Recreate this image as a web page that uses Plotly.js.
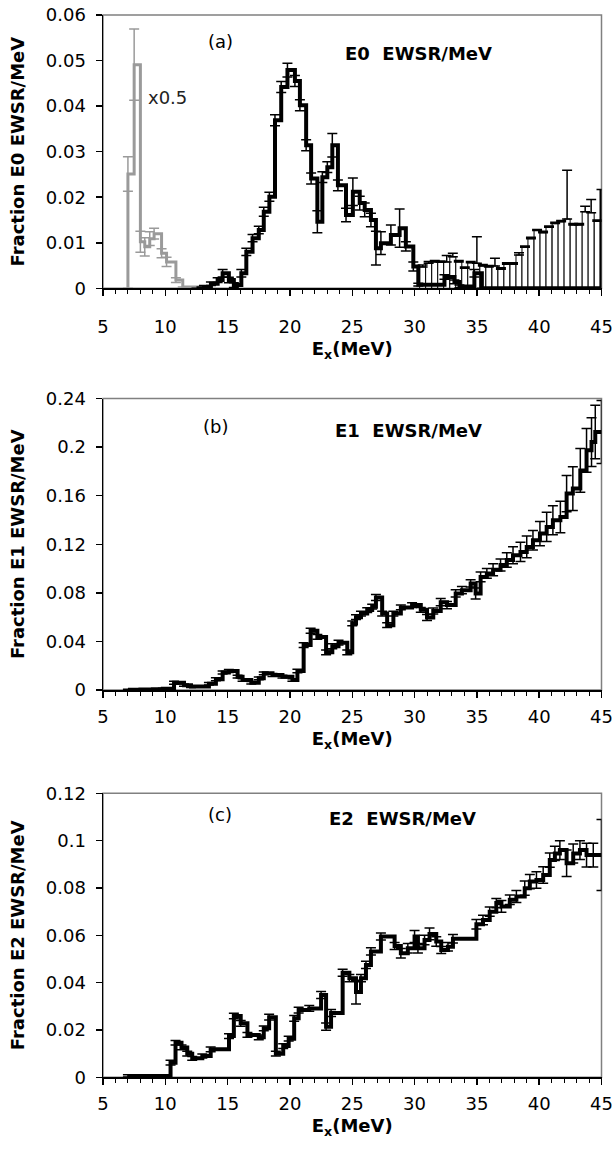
<!DOCTYPE html>
<html>
<head>
<meta charset="utf-8">
<script src="https://cdn.plot.ly/plotly-3.0.1.min.js"></script>
<style>html,body{margin:0;padding:0;background:#fff;}#chart{width:615px;height:1151px;}</style>
</head>
<body>
<div id="chart"></div>
<script>
// ---------- Panel (a): E0 ----------
const e0ScaledX = [7.0, 7.0, 7.5, 8.0, 8.35, 8.75, 9.1, 9.7, 10.1, 10.85, 11.4, 13.0];
const e0ScaledY = [0, 0.0251, 0.0491, 0.0102, 0.0091, 0.0109, 0.012, 0.0077, 0.0058, 0.0018, 0.0003, 0.0003];
const e0ScaledErr = [0, 0.0038, 0.0078, 0.0023, 0.002, 0.0015, 0.0012, 0.001, 0.001, 0.0005, 0, 0];

const e0X = [12.5, 13.1, 13.66, 14.2, 14.6, 15.1, 15.5, 16.1, 16.5, 17.0, 17.5, 17.9, 18.35, 18.8, 19.3, 19.8, 20.4, 20.8, 21.3, 21.7, 22.2, 22.6, 23.0, 23.4, 23.85, 24.5, 25.05, 25.6, 26.0, 26.5, 26.9, 27.3, 28.1, 28.8, 29.3, 29.9, 30.3, 32.4, 33.2, 33.6, 34.8, 35.4, 45.0];
const e0Y = [0, 0.0003, 0.001, 0.0018, 0.0033, 0.0018, 0.0007, 0.0033, 0.008, 0.011, 0.0128, 0.0168, 0.0201, 0.0369, 0.0442, 0.0479, 0.0455, 0.0402, 0.0314, 0.0241, 0.0146, 0.0244, 0.0266, 0.0314, 0.0226, 0.0161, 0.0212, 0.0187, 0.0172, 0.015, 0.0088, 0.0099, 0.0117, 0.0132, 0.0092, 0.0048, 0.0008, 0.0025, 0.0014, 0.0004, 0.0033, 0, 0.0217];
const e0Err = [0, 0.0003, 0.0004, 0.0005, 0.0008, 0.0006, 0.0005, 0.0008, 0.0008, 0.0008, 0.0008, 0.001, 0.001, 0.0012, 0.0012, 0.0015, 0.0012, 0.0012, 0.0012, 0.0012, 0.0024, 0.0012, 0.0012, 0.0026, 0.0012, 0.0015, 0.003, 0.0015, 0.0015, 0.0015, 0.0037, 0.0025, 0.0022, 0.0042, 0.001, 0.001, 0.0003, 0.0005, 0.0004, 0.0003, 0.0008, 0, 0];

const e0LimitX = [30.65, 31.13, 31.62, 32.1, 32.58, 33.07, 33.55, 34.03, 34.51, 35.0, 35.48, 35.96, 36.45, 36.93, 37.41, 37.9, 38.38, 38.86, 39.34, 39.83, 40.31, 40.79, 41.28, 41.76, 42.24, 42.73, 43.21, 43.69, 44.17, 44.66];
const e0LimitY = [0.0047, 0.0055, 0.0058, 0.0057, 0.0058, 0.0069, 0.0058, 0.0044, 0.0056, 0.0055, 0.0049, 0.0047, 0.0049, 0.0042, 0.0053, 0.0053, 0.0073, 0.009, 0.0109, 0.0127, 0.0122, 0.0134, 0.0142, 0.0146, 0.0152, 0.0139, 0.0139, 0.0168, 0.0166, 0.0147];
const e0LimitErr = [0.0004, 0.0004, 0.0003, 0.0003, 0.0014, 0.0008, 0.0003, 0.0003, 0.0003, 0.0058, 0.0003, 0.0003, 0.0017, 0.0003, 0.0003, 0.0003, 0.0005, 0.0003, 0.0003, 0.0002, 0.0003, 0.0003, 0.0003, 0.0003, 0.0107, 0.0003, 0.0003, 0.0012, 0.0029, 0.0003];
const e0LimitZero = e0LimitX.map(() => 0);

// ---------- Panel (b): E1 ----------
const e1X = [7.0, 8.0, 9.0, 9.8, 10.7, 11.5, 12.06, 13.5, 14.06, 14.6, 15.1, 15.8, 16.2, 16.9, 17.5, 17.9, 18.6, 19.4, 20.2, 20.6, 21.1, 21.66, 22.2, 22.9, 23.4, 23.9, 24.6, 25.0, 25.3, 25.7, 26.2, 26.6, 26.9, 27.4, 27.8, 28.3, 28.9, 29.8, 30.5, 31.0, 31.5, 32.1, 32.6, 33.3, 33.8, 34.5, 34.9, 35.3, 35.8, 36.3, 36.9, 37.4, 37.9, 38.5, 39.0, 39.5, 40.06, 40.6, 41.1, 41.7, 42.2, 42.7, 43.3, 43.8, 44.2, 44.5, 45.0];
const e1Y = [0.0003, 0.0005, 0.0007, 0.001, 0.006, 0.004, 0.0028, 0.0052, 0.0088, 0.0144, 0.0156, 0.011, 0.0082, 0.006, 0.0096, 0.0137, 0.0123, 0.011, 0.0082, 0.0156, 0.037, 0.0488, 0.0437, 0.031, 0.036, 0.039, 0.031, 0.0548, 0.060, 0.0629, 0.0658, 0.0686, 0.0762, 0.0629, 0.0534, 0.0629, 0.068, 0.0699, 0.066, 0.0597, 0.065, 0.0723, 0.0699, 0.0795, 0.0822, 0.0877, 0.0795, 0.0931, 0.096, 0.099, 0.1029, 0.107, 0.111, 0.1137, 0.1178, 0.1233, 0.1288, 0.1343, 0.1398, 0.1425, 0.1617, 0.1658, 0.1808, 0.1973, 0.2041, 0.2124, 0.2124];
const e1Err = [0.0004, 0.0004, 0.0004, 0.0005, 0.0012, 0.001, 0.0008, 0.001, 0.0012, 0.0012, 0.0012, 0.0012, 0.001, 0.001, 0.0012, 0.0012, 0.0012, 0.0012, 0.001, 0.0015, 0.002, 0.002, 0.002, 0.002, 0.002, 0.002, 0.002, 0.002, 0.002, 0.002, 0.002, 0.002, 0.0025, 0.002, 0.002, 0.002, 0.002, 0.002, 0.002, 0.0025, 0.0025, 0.003, 0.003, 0.003, 0.003, 0.003, 0.0045, 0.004, 0.004, 0.005, 0.005, 0.006, 0.007, 0.008, 0.009, 0.008, 0.01, 0.012, 0.012, 0.013, 0.015, 0.018, 0.018, 0.018, 0.02, 0.022, 0.026];

// ---------- Panel (c): E2 ----------
const e2X = [7.0, 10.42, 10.82, 11.3, 11.76, 12.16, 12.97, 13.64, 15.11, 15.5, 16.05, 16.59, 17.5, 17.9, 18.33, 18.87, 19.46, 19.9, 20.34, 20.7, 21.55, 22.5, 22.9, 23.3, 24.23, 24.77, 25.3, 25.7, 26.1, 26.5, 27.3, 28.4, 28.9, 29.46, 30.0, 30.27, 30.8, 31.2, 31.74, 32.14, 32.68, 33.08, 34.96, 35.49, 36.03, 36.56, 36.97, 37.64, 38.17, 38.84, 39.25, 39.78, 40.32, 40.85, 41.26, 41.66, 42.2, 42.73, 43.27, 43.8, 44.34, 45.0];
const e2Y = [0.0006, 0.0062, 0.0146, 0.0126, 0.010, 0.008, 0.009, 0.0118, 0.0174, 0.0259, 0.0228, 0.0179, 0.0169, 0.0207, 0.0254, 0.010, 0.0132, 0.0163, 0.0249, 0.0284, 0.0291, 0.0348, 0.0214, 0.0272, 0.0442, 0.0419, 0.036, 0.0419, 0.0475, 0.0532, 0.0595, 0.0555, 0.0524, 0.0545, 0.0595, 0.0545, 0.058, 0.0606, 0.0574, 0.0538, 0.0552, 0.0585, 0.0647, 0.0665, 0.070, 0.0736, 0.0722, 0.075, 0.0764, 0.0799, 0.0827, 0.0834, 0.0855, 0.0918, 0.0946, 0.096, 0.0904, 0.0946, 0.096, 0.0939, 0.0939, 0.0939];
const e2Err = [0.0005, 0.001, 0.001, 0.001, 0.001, 0.0008, 0.0008, 0.001, 0.001, 0.0012, 0.0012, 0.001, 0.001, 0.001, 0.0012, 0.001, 0.001, 0.001, 0.0012, 0.0012, 0.0012, 0.0015, 0.0015, 0.0015, 0.0015, 0.0015, 0.005, 0.0015, 0.0015, 0.0015, 0.0015, 0.0015, 0.002, 0.002, 0.0025, 0.002, 0.002, 0.0025, 0.002, 0.0015, 0.0018, 0.0018, 0.002, 0.002, 0.002, 0.002, 0.0025, 0.002, 0.0025, 0.003, 0.003, 0.0035, 0.0035, 0.003, 0.003, 0.004, 0.0056, 0.004, 0.004, 0.005, 0.005, 0.015];

const panelLabels = ['(a)', '(b)', '(c)'];
const panelTitles = ['E0\u00a0 EWSR/MeV', 'E1\u00a0 EWSR/MeV', 'E2\u00a0 EWSR/MeV'];
const yTitles = ['Fraction E0 EWSR/MeV', 'Fraction E1 EWSR/MeV', 'Fraction E2 EWSR/MeV'];
const xTitle = 'E<sub>x</sub>(MeV)';
const scaleNote = 'x0.5';

// ---------- styling ----------
const FONT = 'DejaVu Sans, Arial, sans-serif';
const BLACK = '#000000';
const GREY = '#9a9a9a';

function stepTrace(x, y, err, xa, ya, color, width, errColor) {
  return {
    type: 'scatter', mode: 'lines', x: x, y: y, xaxis: xa, yaxis: ya,
    line: {shape: 'hv', color: color, width: width},
    error_y: {type: 'data', array: err, visible: true, color: errColor, thickness: 1.5, width: 5},
    hoverinfo: 'skip', showlegend: false
  };
}

const traces = [
  {
    type: 'bar', x: e0LimitX, y: e0LimitY, width: 0.483, xaxis: 'x', yaxis: 'y',
    marker: {color: '#ffffff', line: {color: BLACK, width: 1}},
    error_y: {type: 'data', symmetric: false, array: e0LimitErr, arrayminus: e0LimitZero, visible: true, color: BLACK, thickness: 1.5, width: 5},
    hoverinfo: 'skip', showlegend: false
  },
  stepTrace(e0ScaledX, e0ScaledY, e0ScaledErr, 'x', 'y', GREY, 3, GREY),
  stepTrace(e0X, e0Y, e0Err, 'x', 'y', BLACK, 4, BLACK),
  stepTrace(e1X, e1Y, e1Err, 'x2', 'y2', BLACK, 4, BLACK),
  stepTrace(e2X, e2Y, e2Err, 'x3', 'y3', BLACK, 4, BLACK)
];

const H = 1151, W = 615;
const xDom = [103 / W, 601.5 / W];
const yDoms = [
  [1 - 288.3 / H, 1 - 15 / H],
  [1 - 690 / H, 1 - 398.5 / H],
  [1 - 1077.3 / H, 1 - 793.3 / H]
];
const yRanges = [[0, 0.06], [0, 0.24], [0, 0.12]];
const yDticks = [0.01, 0.04, 0.02];
const xLabelStandoff = [16, 4, 4];

function xAxis(i) {
  return {
    domain: xDom, anchor: i === 0 ? 'y' : 'y' + (i + 1),
    range: [5, 45], tick0: 5, dtick: 5,
    ticks: 'outside', ticklen: 6, tickwidth: 1.5, tickcolor: BLACK,
    minor: {dtick: 1, ticks: 'outside', ticklen: 4, tickwidth: 1, tickcolor: BLACK, showgrid: false},
    ticklabelstandoff: xLabelStandoff[i],
    showline: true, linecolor: BLACK, linewidth: 1.5,
    showgrid: false, zeroline: false, automargin: false, fixedrange: true,
    tickfont: {family: FONT, size: 18, color: BLACK},
    title: {text: xTitle, font: {family: FONT, size: 18, color: BLACK, weight: 'bold'}, standoff: 6}
  };
}
function yAxis(i) {
  return {
    domain: yDoms[i], anchor: i === 0 ? 'x' : 'x' + (i + 1),
    range: yRanges[i], tick0: 0, dtick: yDticks[i],
    ticks: 'outside', ticklen: 6, tickwidth: 1.5, tickcolor: BLACK,
    ticklabelstandoff: 6,
    showline: true, linecolor: BLACK, linewidth: 1.5,
    showgrid: false, zeroline: false, automargin: false, fixedrange: true,
    tickfont: {family: FONT, size: 18, color: BLACK},
    title: {text: yTitles[i], font: {family: FONT, size: 18, color: BLACK, weight: 'bold'}, standoff: 16}
  };
}

const labelPos = [[220, 42], [215, 426], [220, 814]];
const titlePos = [[418, 54], [408, 430], [402, 819]];
const annotations = [];
for (let i = 0; i < 3; i++) {
  annotations.push({
    xref: 'paper', yref: 'paper', x: labelPos[i][0] / W, y: 1 - labelPos[i][1] / H,
    text: panelLabels[i], showarrow: false, xanchor: 'center', yanchor: 'middle',
    font: {family: FONT, size: 18, color: BLACK}
  });
  annotations.push({
    xref: 'paper', yref: 'paper', x: titlePos[i][0] / W, y: 1 - titlePos[i][1] / H,
    text: panelTitles[i], showarrow: false, xanchor: 'center', yanchor: 'middle',
    font: {family: FONT, size: 18, color: BLACK, weight: 'bold'}
  });
}
annotations.push({
  xref: 'paper', yref: 'paper', x: 167 / W, y: 1 - 98 / H,
  text: scaleNote, showarrow: false, xanchor: 'center', yanchor: 'middle',
  font: {family: FONT, size: 18, color: '#222222'}
});

const shapes = ['', '2', '3'].map(s => ({
  type: 'rect', xref: 'x' + s + ' domain', yref: 'y' + s + ' domain',
  x0: 0, x1: 1, y0: 0, y1: 1, layer: 'below',
  line: {color: '#808080', width: 1.5}, fillcolor: 'rgba(0,0,0,0)'
}));

const layout = {
  width: W, height: H,
  margin: {l: 0, r: 0, t: 0, b: 0},
  paper_bgcolor: '#ffffff', plot_bgcolor: '#ffffff',
  showlegend: false,
  font: {family: FONT, size: 18, color: BLACK},
  xaxis: xAxis(0), xaxis2: xAxis(1), xaxis3: xAxis(2),
  yaxis: yAxis(0), yaxis2: yAxis(1), yaxis3: yAxis(2),
  annotations: annotations,
  shapes: shapes
};

Plotly.newPlot('chart', traces, layout, {staticPlot: true, displayModeBar: false});
</script>
</body>
</html>
